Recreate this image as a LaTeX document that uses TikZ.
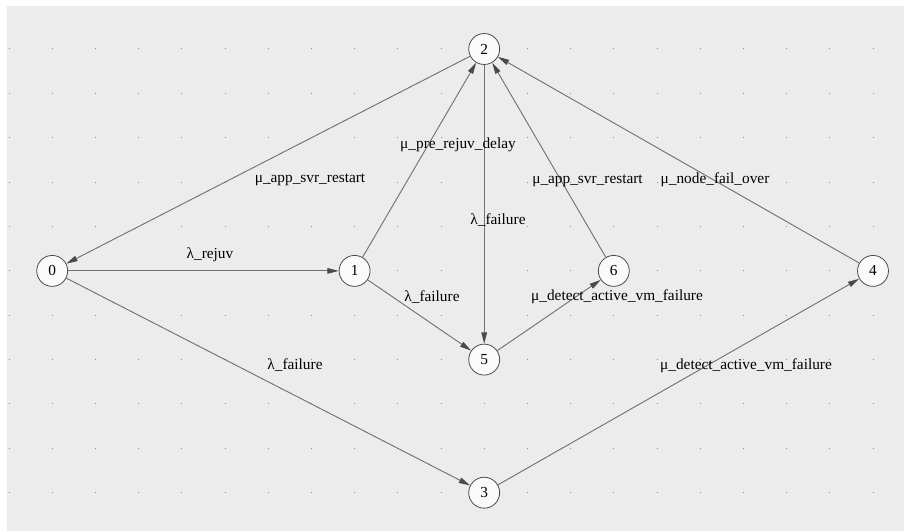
\documentclass[tikz,border=0pt]{standalone}
\usepackage{fontspec}
\setmainfont{Liberation Serif}
\usetikzlibrary{arrows.meta}
\definecolor{bg}{HTML}{ECECEC}
\definecolor{edgecol}{HTML}{727272}
\definecolor{tipcol}{HTML}{4A4A4A}
\definecolor{dotcol}{HTML}{8C8C8C}
\definecolor{nodefill}{HTML}{FAFAFA}
\begin{document}
\begin{tikzpicture}[x=0.75pt,y=-0.75pt,
  state/.style={circle,draw=black!70,fill=nodefill,minimum size=23.2pt,inner sep=0pt,line width=0.6pt,font=\fontsize{11.5}{13}\selectfont},
  trans/.style={draw=edgecol,line width=0.7pt,-{Triangle[length=8.5pt,width=4.2pt,color=tipcol]}},
  lbl/.style={anchor=base,inner sep=0pt,font=\fontsize{11.5}{13}\selectfont}]
\useasboundingbox (0,0) rectangle (904,531);
\fill[white] (0,0) rectangle (904,531);
\fill[bg] (7,6) rectangle (904,531);
\foreach \i in {0,...,20}{\foreach \j in {0,...,10}{\fill[dotcol] ({9+43.2*\i-0.5},{49+44.37*\j-0.5}) rectangle ++(1,1);}}
% states
\node[state] (s0) at (52.2,270.9) {0};
\node[state] (s1) at (354.6,270.9) {1};
\node[state] (s2) at (484.2,49) {2};
\node[state] (s3) at (484.2,492.7) {3};
\node[state] (s4) at (873,270.9) {4};
\node[state] (s5) at (484.2,359.6) {5};
\node[state] (s6) at (613.8,270.9) {6};
% transitions
\draw[trans] (s0) -- (s1);
\draw[trans] (s2) -- (s0);
\draw[trans] (s1) -- (s2);
\draw[trans] (s2) -- (s5);
\draw[trans] (s1) -- (s5);
\draw[trans] (s5) -- (s6);
\draw[trans] (s6) -- (s2);
\draw[trans] (s4) -- (s2);
\draw[trans] (s0) -- (s3);
\draw[trans] (s3) -- (s4);
% labels
\node[lbl] (l01) at (210,258.5) {λ\_rejuv};
\node[lbl] (l20) at (310,183) {μ\_app\_svr\_restart};
\node[lbl] (l12) at (458,149) {μ\_pre\_rejuv\_delay};
\node[lbl] (l25) at (498,225) {λ\_failure};
\node[lbl] (l62) at (587.5,183.3) {μ\_app\_svr\_restart};
\node[lbl] (l42) at (715,183.3) {μ\_node\_fail\_over};
\node[lbl] (l15) at (432,301.5) {λ\_failure};
\node[lbl] (l56) at (617,300.7) {μ\_detect\_active\_vm\_failure};
\node[lbl] (l03) at (295,369) {λ\_failure};
\node[lbl] (l34) at (746,369) {μ\_detect\_active\_vm\_failure};
\end{tikzpicture}
\end{document}
